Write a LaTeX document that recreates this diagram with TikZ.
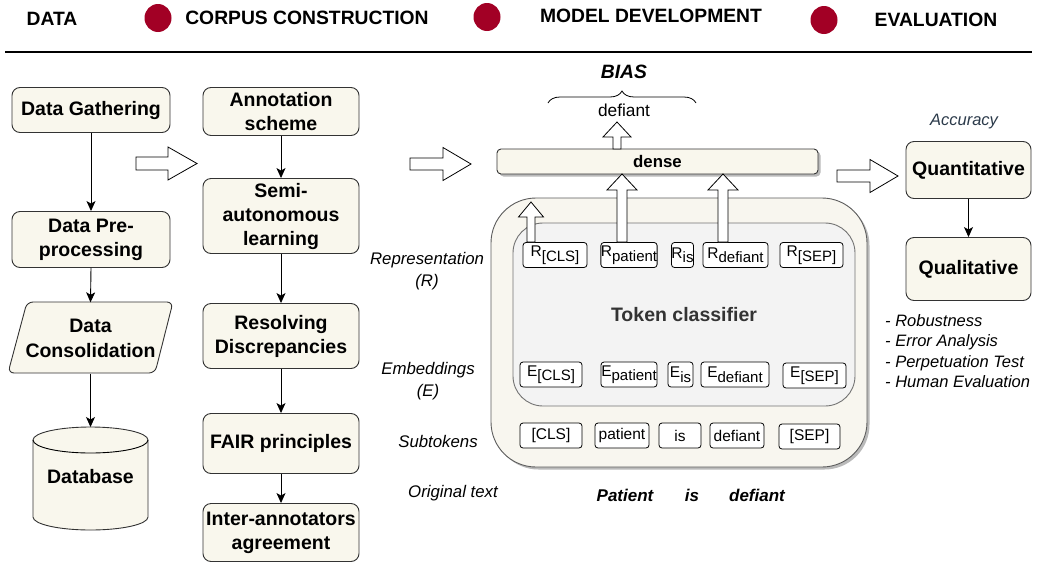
\documentclass[tikz,border=0pt]{standalone}
\usepackage{fontspec}
\setmainfont{Liberation Sans}
\usetikzlibrary{arrows.meta,shadows,decorations.pathreplacing,calc,shapes.geometric}
\definecolor{boxfill}{HTML}{F9F7ED}
\definecolor{outerfill}{HTML}{F8F6EF}
\definecolor{innerfill}{HTML}{F3F3F3}
\definecolor{stroke}{HTML}{333333}
\definecolor{darkred}{HTML}{A20025}
\definecolor{accblue}{HTML}{2B3A4A}
\newcommand\tsub[1]{\raisebox{-4.5pt}{\fontsize{15}{15}\selectfont #1}}
\newcommand\rarr[6]{\draw[hollow] (#1,{#4-#5}) -- (#2,{#4-#5}) -- (#2,{#4-#6}) -- (#3,#4) -- (#2,{#4+#6}) -- (#2,{#4+#5}) -- (#1,{#4+#5}) -- cycle;}
\newcommand\uarr[6]{\draw[hollow] ({#1-#5},#2) -- ({#1-#5},#3) -- ({#1-#6},#3) -- (#1,#4) -- ({#1+#6},#3) -- ({#1+#5},#3) -- ({#1+#5},#2) -- cycle;}
\tikzset{
 stepbox/.style={draw=stroke, fill=boxfill, rounded corners=8pt, line width=0.9pt, align=center, font=\fontsize{19.5}{24}\selectfont\bfseries, inner sep=0pt},
 tokbox/.style={draw=black, fill=white, rounded corners=3pt, line width=0.8pt, inner sep=0pt, minimum height=25pt, font=\fontsize{15.5}{15}\selectfont},
 flow/.style={-{Stealth[length=10pt,width=9pt,inset=2.5pt]}, line width=0.9pt, draw=black},
 hollow/.style={draw=black, fill=white, line width=0.8pt, line join=miter},
 lab/.style={font=\fontsize{16.8}{22}\selectfont\itshape, align=center},
 headtxt/.style={font=\fontsize{19.3}{19}\selectfont\bfseries},
 dot/.style={fill=darkred, draw=none, ellipse, minimum width=27pt, minimum height=28pt, inner sep=0pt},
 shade1/.style={drop shadow={shadow xshift=2.5pt, shadow yshift=-2.5pt, fill=black!45, opacity=0.6}},
}
\begin{document}
\begin{tikzpicture}[x=1pt,y=-1pt]
\useasboundingbox (0,0) rectangle (1037,563);
\fill[white] (0,0) rectangle (1037,563);

% header
\node[headtxt] (hdata) at (52,19) {DATA};
\node[dot] (d1) at (158,18) {};
\node[headtxt] (hcorp) at (307,18) {CORPUS CONSTRUCTION};
\node[dot] (d2) at (487,17) {};
\node[headtxt] (hmod) at (651,16) {MODEL DEVELOPMENT};
\node[dot] (d3) at (824,20) {};
\node[headtxt] (heval) at (936,20) {EVALUATION};
\draw[line width=1.6pt, stroke] (5,52) -- (1032,52);

% left column
\node[stepbox, minimum width=158pt, minimum height=45pt] (gather) at (91,110) {Data Gathering};
\node[stepbox, minimum width=158pt, minimum height=56pt] (pre) at (91,239.5) {Data Pre-\\processing};
\filldraw[draw=stroke, fill=boxfill, line width=0.9pt, rounded corners=6pt] (27,302) -- (173,302) -- (155,373) -- (8,373) -- cycle;
\node[align=center, font=\fontsize{19.5}{25}\selectfont\bfseries, minimum width=146pt, minimum height=71pt, inner sep=0pt] (cons) at (90.5,338) {Data\\Consolidation};
\filldraw[draw=stroke, fill=boxfill, line width=0.9pt] (33,440) -- (33,517) arc[start angle=180, end angle=360, x radius=57.5pt, y radius=13pt] -- (148,440) arc[start angle=0, end angle=180, x radius=57.5pt, y radius=13pt] -- cycle;
\draw[stroke, line width=0.9pt] (33,440) arc[start angle=180, end angle=360, x radius=57.5pt, y radius=13pt];
\coordinate (dbtop) at (90.5,427);
\node[font=\fontsize{19.5}{24}\selectfont\bfseries] (db) at (90.5,477) {Database};
\draw[flow] (gather.south) -- (pre.north);
\draw[flow] (pre.south) -- (cons.north);
\draw[flow] (cons.south) -- (dbtop);

% second column
\node[stepbox, minimum width=156pt, minimum height=48pt] (anno) at (281,111.5) {Annotation\\scheme};
\node[stepbox, minimum width=156pt, minimum height=75pt] (semi) at (281,216) {Semi-\\autonomous\\learning};
\node[stepbox, minimum width=156pt, minimum height=65pt] (resolv) at (281,336) {Resolving\\Discrepancies};
\node[stepbox, minimum width=156pt, minimum height=60pt] (fair) at (281,443.5) {FAIR principles};
\node[stepbox, minimum width=156pt, minimum height=58pt] (inter) at (281,532.5) {Inter-annotators\\agreement};
\draw[flow] (anno.south) -- (semi.north);
\draw[flow] (semi.south) -- (resolv.north);
\draw[flow] (resolv.south) -- (fair.north);
\draw[flow] (fair.south) -- (inter.north);

% hollow right arrows
\rarr{136}{168}{197}{163.5}{6.5}{16.5}
\rarr{410}{443}{471}{164}{6}{16.5}
\rarr{837}{870}{898}{176}{6}{16.5}

% model
\node[draw=stroke!80, fill=outerfill, line width=0.9pt, rounded corners=45pt, minimum width=376pt, minimum height=269pt, shade1] (outer) at (679,332.5) {};
\node[draw=black!55, fill=innerfill, line width=0.9pt, rounded corners=30pt, minimum width=342pt, minimum height=183pt] (inner) at (684,314.5) {};
\node[font=\fontsize{19.5}{20}\selectfont\bfseries, text=stroke] (tc) at (684,315) {Token classifier};

\node[draw=stroke, fill=boxfill, line width=0.9pt, rounded corners=4pt, minimum width=321pt, minimum height=25pt, inner sep=0pt, font=\fontsize{16.8}{17}\selectfont\bfseries, shade1] (dense) at (657.5,161.5) {dense};

% R boxes
\node[tokbox, minimum width=64pt] (rcls) at (555,255) {R\tsub{[CLS]}};
\node[tokbox, minimum width=56pt] (rpat) at (629,255) {R\tsub{patient}};
\node[tokbox, minimum width=21pt] (ris) at (682.5,255) {R\tsub{is}};
\node[tokbox, minimum width=65pt] (rdef) at (735.5,255) {R\tsub{defiant}};
\node[tokbox, minimum width=63pt] (rsep) at (811.5,255) {R\tsub{[SEP]}};
% E boxes
\node[tokbox, minimum width=62pt] (ecls) at (551,374.5) {E\tsub{[CLS]}};
\node[tokbox, minimum width=56pt] (epat) at (629,374.5) {E\tsub{patient}};
\node[tokbox, minimum width=25pt] (eis) at (680.5,374.5) {E\tsub{is}};
\node[tokbox, minimum width=68pt] (edef) at (735,374.5) {E\tsub{defiant}};
\node[tokbox, minimum width=63pt] (esep) at (814.5,375.5) {E\tsub{[SEP]}};
% subtokens
\node[tokbox, minimum width=62pt] (scls) at (551,435.5) {[CLS]};
\node[tokbox, minimum width=54pt] (spat) at (622,435.5) {patient};
\node[tokbox, minimum width=42pt] (sis) at (680,435.5) {is};
\node[tokbox, minimum width=54pt] (sdef) at (737,435.5) {defiant};
\node[tokbox, minimum width=61pt] (ssep) at (809.5,436.5) {[SEP]};

% up arrows
\uarr{617}{149}{137}{122}{4}{14}
\uarr{622}{242}{190}{174}{5}{15}
\uarr{723}{242}{190}{174}{5}{15}
\uarr{531}{242}{217}{202}{4}{12.5}

\node[font=\fontsize{17.3}{17}\selectfont] (out) at (624,110) {defiant};
\draw[stroke, line width=0.8pt, decorate, decoration={brace, amplitude=12pt}] (548,103) -- (696,103);
\node[font=\fontsize{19.3}{19}\selectfont\bfseries\itshape] (bias) at (624,72) {BIAS};

% left labels
\node[lab] (lrep) at (427,271) {Representation\\(R)};
\node[lab] (lemb) at (428,381) {Embeddings\\(E)};
\node[lab] (lsub) at (438,441) {Subtokens};
\node[lab] (lorig) at (453,493) {Original text};
\node[font=\fontsize{17}{17}\selectfont\bfseries\itshape] (w1) at (625,495) {Patient};
\node[font=\fontsize{17}{17}\selectfont\bfseries\itshape] (w2) at (692,495) {is};
\node[font=\fontsize{17}{17}\selectfont\bfseries\itshape] (w3) at (757,495) {defiant};

% evaluation
\node[font=\fontsize{16.5}{17}\selectfont\itshape, text=accblue] (acc) at (964,122) {Accuracy};
\node[stepbox, minimum width=125pt, minimum height=57pt] (quant) at (968.5,170) {Quantitative};
\node[stepbox, minimum width=125pt, minimum height=63pt] (qual) at (968.5,269) {Qualitative};
\draw[flow] (quant.south) -- (qual.north);
\node[anchor=west, align=left, inner sep=0pt, font=\fontsize{16.5}{20.5}\selectfont\itshape] (list) at (885,351) {- Robustness\\- Error Analysis\\- Perpetuation Test\\- Human Evaluation};
\end{tikzpicture}
\end{document}
